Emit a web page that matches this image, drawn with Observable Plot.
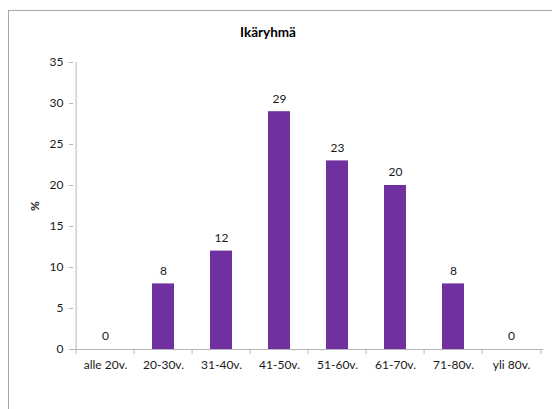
<!DOCTYPE html>
<html>
<head>
<meta charset="utf-8">
<script src="https://cdn.jsdelivr.net/npm/d3@7"></script>
<script src="https://cdn.jsdelivr.net/npm/@observablehq/plot@0.6"></script>
<style>
  html, body { margin: 0; padding: 0; background: #fff; }
  #wrap { position: relative; width: 552px; height: 409px; overflow: hidden; font-family: Lato, "Open Sans", sans-serif; }
  #box { position: absolute; left: 8px; top: 10px; width: 600px; height: 500px;
         border-left: 1px solid #a6a6a6; border-top: 1px solid #a6a6a6; }
  #title { position: absolute; left: 168px; width: 200px; top: 24px; text-align: center;
           font-weight: bold; font-size: 13.5px; color: #000; }
  #chart { position: absolute; left: 0; top: 0; }
</style>
</head>
<body>
<div id="wrap">
  <div id="box"></div>
  <div id="title">Ikäryhmä</div>
  <div id="chart"></div>
</div>
<script>
// Age groups and their share of respondents (%)
const groups = ["alle 20v.", "20-30v.", "31-40v.", "41-50v.", "51-60v.", "61-70v.", "71-80v.", "yli 80v."];
const shares = [0, 8, 12, 29, 23, 20, 8, 0];
const yTicks = [0, 5, 10, 15, 20, 25, 30, 35];

const data = groups.map((g, i) => ({group: g, value: shares[i]}));

const W = 552, H = 409, ML = 73, MR = 9;
const band = (W - ML - MR) / groups.length;
const axisGray = "#b7b7b7";

const chart = Plot.plot({
  width: W,
  height: H,
  marginLeft: ML,
  marginRight: MR,
  marginTop: 62,
  marginBottom: 60,
  style: {fontFamily: "Lato, 'Open Sans', sans-serif", fontSize: "12px", color: "#1a1a1a", background: "transparent"},
  x: {domain: groups, padding: 0, label: null},
  y: {domain: [0, 35], ticks: yTicks, label: "%"},
  marks: [
    Plot.barY(data, {x: "group", y: "value", fill: "#7030a0", insetLeft: 18, insetRight: 18}),
    Plot.text(data, {x: "group", y: "value", text: d => String(d.value), dy: -13, fontSize: 12, fill: "#1a1a1a"}),
    // axis lines
    Plot.ruleY([0], {stroke: axisGray}),
    Plot.ruleX([0], {x: () => groups[0], dx: -band / 2, y1: 0, y2: 35, stroke: axisGray}),
    // category boundary ticks below the baseline
    Plot.ruleX(groups, {x: d => d, dx: -band / 2, y1: 0, y2: -0.6, stroke: axisGray}),
    Plot.ruleX([groups[groups.length - 1]], {x: d => d, dx: band / 2, y1: 0, y2: -0.6, stroke: axisGray}),
    Plot.axisX({tickSize: 0, tickPadding: 11, label: null, fill: "#1a1a1a", fontSize: 12}),
    Plot.axisY({ticks: yTicks, tickSize: 4, tickPadding: 6, stroke: axisGray, fill: "#1a1a1a", fontSize: 12,
                label: "%", labelAnchor: "center", labelArrow: "none", labelOffset: 43})
  ]
});
d3.select(chart).selectAll("[aria-label='y-axis label'] text").attr("font-weight", "bold");
document.getElementById("chart").appendChild(chart);
</script>
</body>
</html>
